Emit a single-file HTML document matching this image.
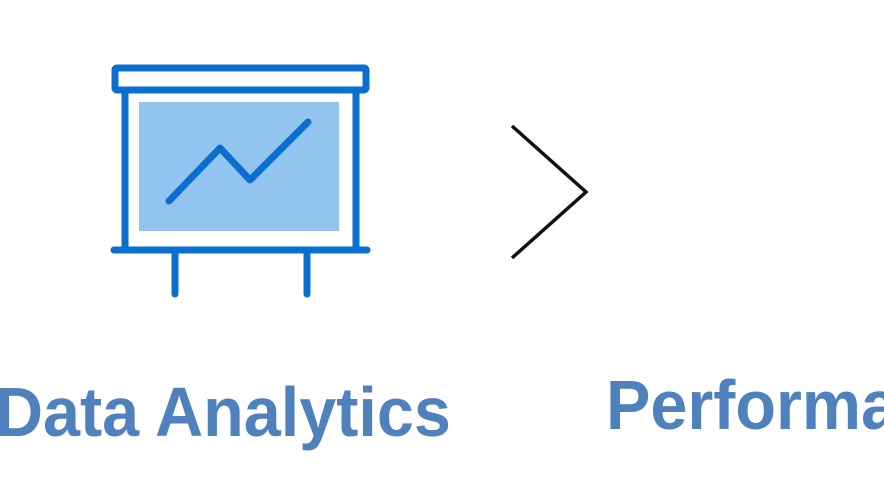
<!DOCTYPE html>
<html><head><style>
html,body{margin:0;padding:0;background:#fff;width:884px;height:500px;overflow:hidden;position:relative}
.t{position:absolute;font-family:"Liberation Sans",Arial,sans-serif;font-weight:bold;color:#4f81bd;font-size:70px;line-height:1;white-space:nowrap;transform:scaleX(0.95);transform-origin:0 0}
</style></head><body>
<svg width="884" height="500" style="position:absolute;left:0;top:0">
<g stroke="#0a6fcf" stroke-width="7" fill="none" stroke-linecap="round" stroke-linejoin="round">
<rect x="115" y="68" width="251" height="22" rx="2"/>
<line x1="125" y1="90" x2="125" y2="250"/>
<line x1="356" y1="90" x2="356" y2="250"/>
<line x1="114" y1="250" x2="367" y2="250"/>
<line x1="175" y1="250" x2="175" y2="294"/>
<line x1="307" y1="250" x2="307" y2="294"/>
</g>
<rect x="139" y="102" width="200" height="129" fill="#92c4f0"/>
<polyline points="169,201 220,148 250,180 308,122" stroke="#0a6fcf" stroke-width="7" fill="none" stroke-linecap="round" stroke-linejoin="round"/>
<polyline points="512,126 586,192 512,258" stroke="#111" stroke-width="3.5" fill="none"/>
</svg>
<div class="t" style="left:-5px;top:377px">Data Analytics</div>
<div class="t" style="left:606px;top:370px">Performa</div>
</body></html>
